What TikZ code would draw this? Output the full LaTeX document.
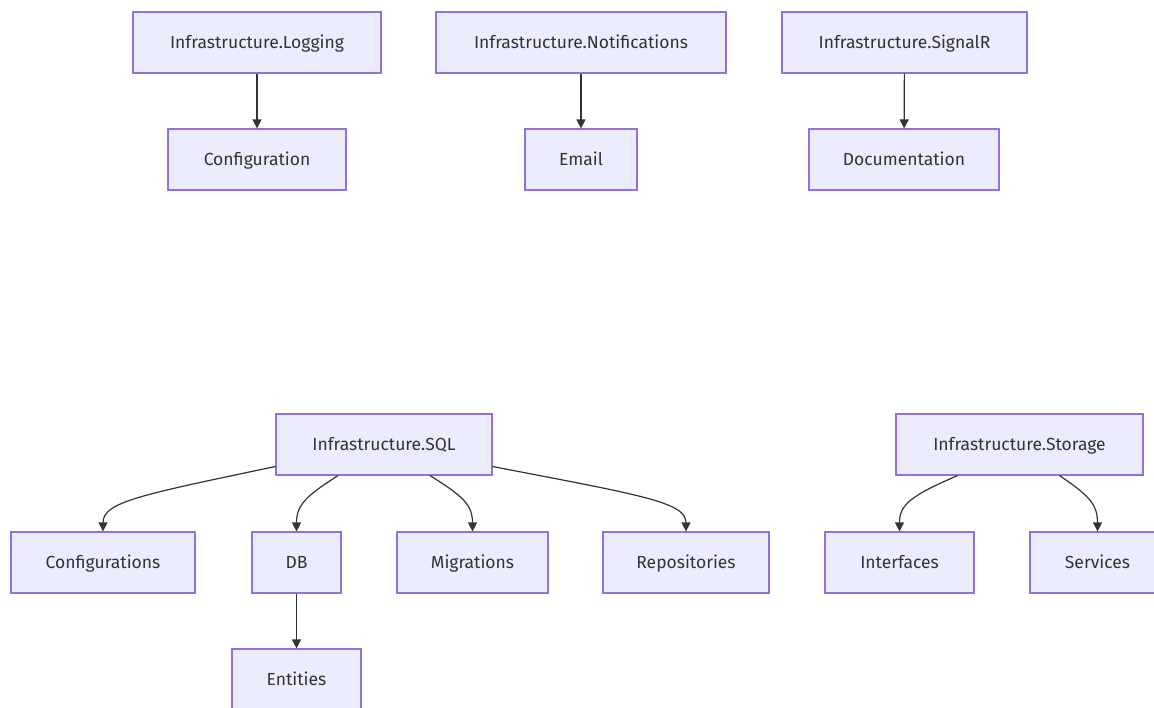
\documentclass[tikz,border=0pt]{standalone}
\usepackage{fontspec}
\setmainfont{Fira Sans}
\usetikzlibrary{arrows.meta}
\definecolor{boxfill}{HTML}{ECECFF}
\definecolor{boxline}{HTML}{9370DB}
\definecolor{ink}{HTML}{333333}
\tikzset{
  module/.style={draw=boxline, fill=boxfill, line width=1.2pt, text=ink,
    minimum height=61pt, inner sep=0pt, text height=14pt, text depth=2pt,
    font=\fontsize{17.5}{20}\selectfont},
  link/.style={draw=ink, line width=1.2pt, -{Triangle[length=9pt,width=9pt]}}
}
\begin{document}
\begin{tikzpicture}[x=1pt,y=-1pt]
\clip (0,0) rectangle (1154,707);
\fill[white] (0,0) rectangle (1154,707);

% top row: three independent projects
\node[module, minimum width=248pt] (logging) at (257,42.5) {Infrastructure.Logging};
\node[module, minimum width=178pt] (config) at (257,159.5) {Configuration};
\node[module, minimum width=290pt] (notify) at (581,42.5) {Infrastructure.Notifications};
\node[module, minimum width=112pt] (email) at (581,159.5) {Email};
\node[module, minimum width=245pt] (signalr) at (904.5,42.5) {Infrastructure.SignalR};
\node[module, minimum width=190pt] (docs) at (904,159.5) {Documentation};

% SQL project
\node[module, minimum width=216pt] (sql) at (384,444.5) {Infrastructure.SQL};
\node[module, minimum width=184pt] (configs) at (103,562.5) {Configurations};
\node[module, minimum width=89pt] (db) at (296.5,562.5) {DB};
\node[module, minimum width=151pt] (migr) at (472.5,562.5) {Migrations};
\node[module, minimum width=166pt] (repos) at (686,562.5) {Repositories};
\node[module, minimum width=129pt] (entities) at (296.5,679.5) {Entities};

% Storage project
\node[module, minimum width=247pt] (storage) at (1019.5,444.5) {Infrastructure.Storage};
\node[module, minimum width=149pt] (ifaces) at (899.5,562.5) {Interfaces};
\node[module, minimum width=135pt] (services) at (1097.5,562.5) {Services};

% straight links
\draw[link] (logging) -- (config);
\draw[link] (notify) -- (email);
\draw[link] (signalr) -- (docs);
\draw[link] (db) -- (entities);

% curved links out of Infrastructure.SQL
\draw[link] ([yshift=-22pt]sql.west) .. controls (140,495) and (103,502) .. (configs.north);
\draw[link] ([xshift=-46pt]sql.south) .. controls (306,496) and (296.5,505) .. (db.north);
\draw[link] ([xshift=46pt]sql.south) .. controls (463,496) and (472.5,505) .. (migr.north);
\draw[link] ([yshift=-22pt]sql.east) .. controls (640,495) and (686,502) .. (repos.north);

% curved links out of Infrastructure.Storage
\draw[link] ([xshift=-62pt]storage.south) .. controls (910,496) and (899.5,505) .. (ifaces.north);
\draw[link] ([xshift=40pt]storage.south) .. controls (1090,496) and (1097.5,505) .. (services.north);
\end{tikzpicture}
\end{document}
